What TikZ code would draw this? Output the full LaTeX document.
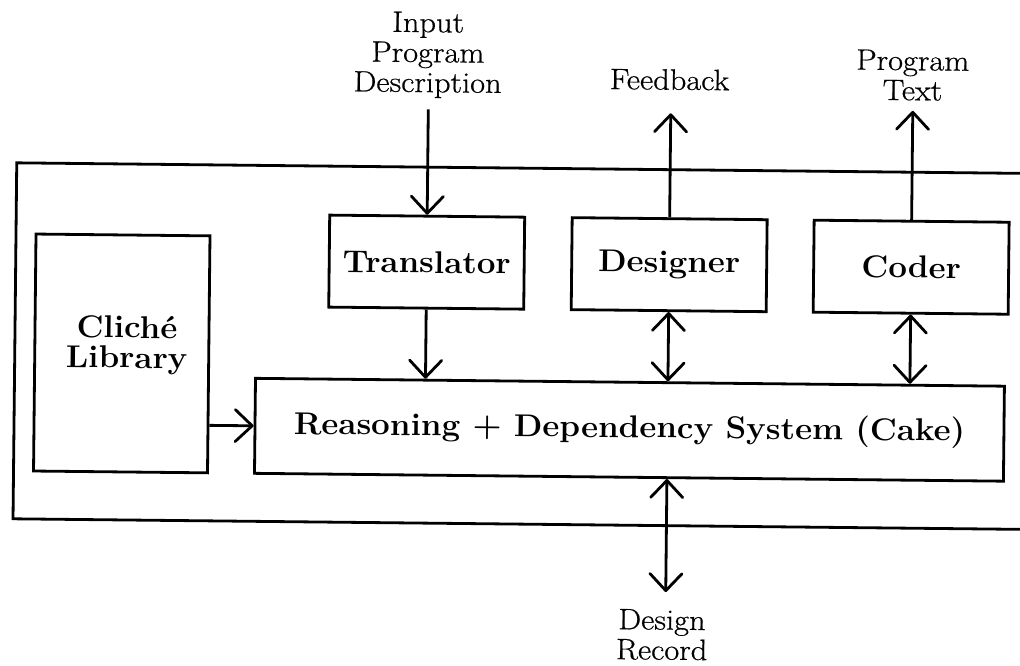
\documentclass[tikz,border=0pt]{standalone}
\usepackage{fontspec}
\usetikzlibrary{arrows.meta}
\newfontfamily\lblfam[FakeStretch=1.1,FakeBold=0.6]{Latin Modern Roman}
\newfontfamily\boxfam[FakeStretch=1.05]{Latin Modern Roman}
\newcommand\lblfont{\lblfam\fontsize{29.5}{30}\selectfont}
\newcommand\boxfont{\boxfam\fontsize{31.5}{30}\selectfont\bfseries}
\begin{document}
\begin{tikzpicture}[x=1pt,y=-1pt,line width=2.8pt,
  barb/.tip={Straight Barb[length=17pt,width=32pt,round]},
  box/.style={draw,line width=2.8pt,inner sep=0pt,font=\boxfont,align=center},
  agent/.style={box,minimum width=195pt,minimum height=92pt},
  lbl/.style={inner sep=0pt,font=\lblfont,align=center,anchor=base},
  flow/.style={-{barb}},
  both/.style={{barb}-{barb}}]
\useasboundingbox (0,0) rectangle (1020,665);
\clip (0,0) rectangle (1020,665);
\begin{scope}[rotate around={-0.6:(510,330)},transform shape]
  % outer frame, open on the right
  \draw (1080,168) -- (15,168) -- (15,524) -- (1080,524);

  % components
  \node[agent] (tr) at (426,263) {Translator};
  \node[agent] (des) at (668.5,263) {Designer};
  \node[agent] (cod) at (910.5,263) {Coder};
  \node[box,minimum width=174pt,minimum height=237pt] (lib) at (122,357.5) {};
  \node[inner sep=0pt,font=\boxfont,align=center] (libtxt) at (127,349) {Cliché\\Library};
  \node[box,minimum width=749pt,minimum height=95pt] (rs) at (630.5,428.5)
    {Reasoning + Dependency System (Cake)};

  % external labels (anchored at the baseline of their last line)
  \node[lbl] (inlbl) at (425,93) {Input\\Program\\Description};
  \node[lbl] (fb) at (667,88) {Feedback};
  \node[lbl] (pt) at (910,96) {Program\\Text};
  \node[lbl] (dr) at (665,658) {Design\\Record};

  % connectors
  \draw[flow,shorten <=10pt] (tr.north |- inlbl.south) -- (tr.north);
  \draw[flow,shorten >=22pt] (des.north) -- (des.north |- fb.south);
  \draw[flow,shorten >=9pt] (cod.north) -- (cod.north |- pt.south);
  \draw[flow] (tr.south) -- (tr.south |- rs.north);
  \draw[both] (des.south) -- (des.south |- rs.north);
  \draw[both] (cod.south) -- (cod.south |- rs.north);
  \draw[flow] (lib.east |- rs.west) -- (rs.west);
  \draw[both,shorten >=16pt] (des.south |- rs.south) -- (des.south |- dr.north);
\end{scope}
\end{tikzpicture}
\end{document}
